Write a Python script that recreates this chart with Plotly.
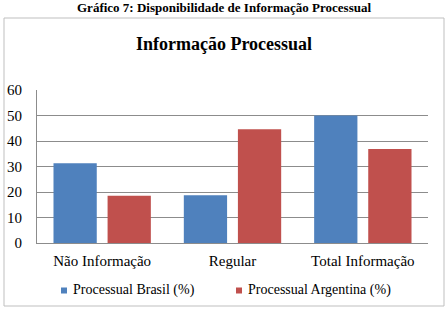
import plotly.graph_objects as go

categories = ["Não Informação", "Regular", "Total Informação"]
brasil = [31.3, 18.7, 50.0]
argentina = [18.5, 44.6, 36.9]
series_names = ["Processual Brasil (%)", "Processual Argentina (%)"]
series_colors = ["#4F81BD", "#C0504D"]
y_ticks = [0, 10, 20, 30, 40, 50, 60]

W, H = 448, 310
L, R, T, B = 37, 20, 90, 67
pw, ph = W - L - R, H - T - B

def px(x):
    return (x - L) / pw

def py(y):
    return (H - B - y) / ph

font = "Liberation Serif"

fig = go.Figure()
for vals, name, color in zip([brasil, argentina], series_names, series_colors):
    fig.add_trace(go.Bar(x=categories, y=vals, name=name, showlegend=False,
                         marker=dict(color=color, line=dict(width=0))))

fig.update_layout(
    width=W, height=H,
    margin=dict(l=L, r=R, t=T, b=B, pad=0, autoexpand=False),
    paper_bgcolor="white", plot_bgcolor="white",
    barmode="group", bargap=0.17, bargroupgap=0.2,
    font=dict(family=font, size=15, color="black"),
    title=dict(text="<b>Informação Processual</b>", x=0.5, xanchor="center",
               y=1 - 44 / H, yanchor="middle",
               font=dict(family=font, size=18, color="black")),
    showlegend=False,
    xaxis=dict(showgrid=False, showline=True, linecolor="#8C8C8C", linewidth=1,
               ticks="", ticklabelstandoff=4, tickfont=dict(family=font, size=15),
               fixedrange=True),
    yaxis=dict(range=[0, 60], tickvals=y_ticks, showgrid=True, gridcolor="#8C8C8C",
               gridwidth=1, showline=True, linecolor="#8C8C8C", linewidth=1,
               ticks="", ticklabelstandoff=11, zeroline=False,
               tickfont=dict(family=font, size=15), fixedrange=True),
)

# outer chart frame
fig.add_shape(type="rect", xref="paper", yref="paper",
              x0=px(4), x1=px(444), y0=py(306), y1=py(18),
              line=dict(color="#BFBFBF", width=1), fillcolor="rgba(0,0,0,0)", layer="below")

# legend (small squares + labels, as in the reference)
legend_x = [61, 236]
for lx, name, color in zip(legend_x, series_names, series_colors):
    fig.add_shape(type="rect", xref="paper", yref="paper",
                  x0=px(lx), x1=px(lx + 6), y0=py(293.5), y1=py(287.5),
                  line=dict(width=0), fillcolor=color)
    fig.add_annotation(text=name, xref="paper", yref="paper",
                       x=px(lx + 10), y=py(290), xanchor="left", yanchor="middle",
                       showarrow=False, font=dict(family=font, size=14, color="black"))

# caption above the frame
fig.add_annotation(text="<b>Gráfico 7: Disponibilidade de Informação Processual</b>",
                   xref="paper", yref="paper", x=px(224), y=py(8),
                   xanchor="center", yanchor="middle", showarrow=False,
                   font=dict(family=font, size=13, color="black"))

fig.write_html("out.html")
